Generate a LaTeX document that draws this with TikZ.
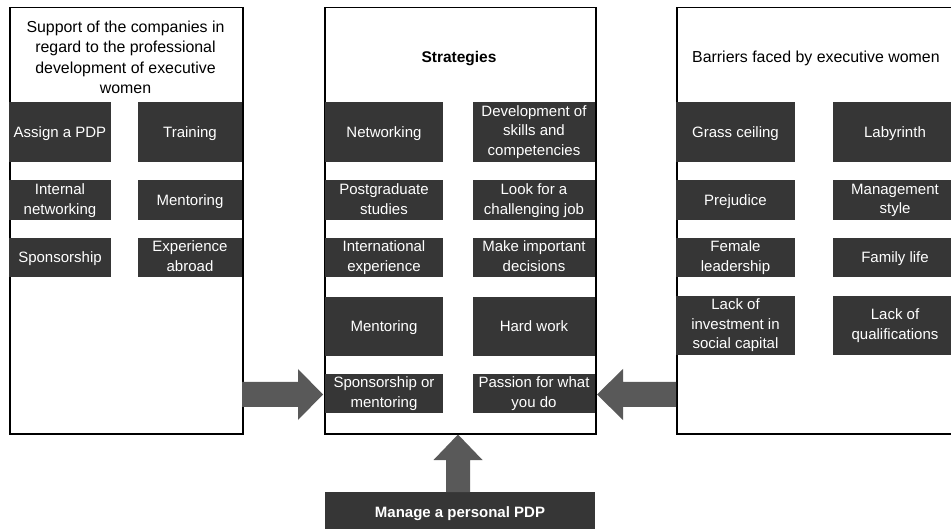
\documentclass[tikz,border=0pt]{standalone}
\usepackage{fontspec}
\setmainfont{Liberation Sans}
\definecolor{boxgray}{HTML}{363636}
\definecolor{arrowgray}{HTML}{595959}
\newcommand{\topstrut}{\rule{0pt}{0.905em}}
\newcommand{\botstrut}{\rule[-0.212em]{0pt}{0pt}}
\tikzset{
  panel/.style={draw=black, line width=1.5pt, fill=white, inner sep=0pt, anchor=north west},
  item/.style={fill=boxgray, text=white, inner sep=0pt, align=center,
     font=\fontsize{15}{19.5}\selectfont,
     execute at begin node=\topstrut, execute at end node=\botstrut},
  bigarrow/.style={fill=arrowgray, draw=none},
  ttl/.style={align=center, font=\fontsize{15.9}{20.5}\selectfont, inner sep=0pt,
     execute at begin node=\topstrut, execute at end node=\botstrut}
}
\newcommand{\itm}[6]{\node[item, minimum width=#3, minimum height=#4] (#1) at (#2) {#5};}
\begin{document}
\begin{tikzpicture}[x=1pt,y=-1pt]
\useasboundingbox (0,0) rectangle (951,529);
\clip (0,0) rectangle (951,529);
% panels
\node[panel, minimum width=233pt, minimum height=426pt] (lp) at (9,7) {};
\node[panel, minimum width=271pt, minimum height=426pt] (mp) at (324,7) {};
\node[panel, minimum width=290pt, minimum height=426pt] (rp) at (676,7) {};
% titles
\node[ttl] (lt) at (125.5,59) {Support of the companies in\\regard to the professional\\development of executive\\women};
\node[ttl, font=\fontsize{15.5}{20.5}\selectfont\bfseries] (mt) at (459,57) {Strategies};
\node[ttl, anchor=west] (rt) at (692,57) {Barriers faced by executive women};
% left boxes
\itm{l11}{60,132}{102pt}{60pt}{Assign a PDP}{}
\itm{l12}{190,132}{104pt}{60pt}{Training}{}
\itm{l21}{60,200.5}{102pt}{40pt}{Internal\\networking}{}
\itm{l22}{190,200.5}{104pt}{40pt}{Mentoring}{}
\itm{l31}{60,257.5}{102pt}{39pt}{Sponsorship}{}
\itm{l32}{190,257.5}{104pt}{39pt}{Experience\\abroad}{}
% middle boxes
\itm{m11}{384,132}{118pt}{60pt}{Networking}{}
\itm{m12}{534,132}{122pt}{60pt}{Development of\\skills and\\competencies}{}
\itm{m21}{384,200.5}{118pt}{40pt}{Postgraduate\\studies}{}
\itm{m22}{534,200.5}{122pt}{40pt}{Look for a\\challenging job}{}
\itm{m31}{384,257.5}{118pt}{39pt}{International\\experience}{}
\itm{m32}{534,257.5}{122pt}{39pt}{Make important\\decisions}{}
\itm{m41}{384,326.5}{118pt}{59pt}{Mentoring}{}
\itm{m42}{534,326.5}{122pt}{59pt}{Hard work}{}
\itm{m51}{384,393.5}{118pt}{39pt}{Sponsorship or\\mentoring}{}
\itm{m52}{534,393.5}{122pt}{39pt}{Passion for what\\you do}{}
% right boxes
\itm{r11}{735.5,132}{119pt}{60pt}{Grass ceiling}{}
\itm{r12}{895,132}{124pt}{60pt}{Labyrinth}{}
\itm{r21}{735.5,200.5}{119pt}{40pt}{Prejudice}{}
\itm{r22}{895,200.5}{124pt}{40pt}{Management\\style}{}
\itm{r31}{735.5,257.5}{119pt}{39pt}{Female\\leadership}{}
\itm{r32}{895,257.5}{124pt}{39pt}{Family life}{}
\itm{r41}{735.5,325.5}{119pt}{59pt}{Lack of\\investment in\\social capital}{}
\itm{r42}{895,325.5}{124pt}{59pt}{Lack of\\qualifications}{}
% bottom box
\node[item, minimum width=270pt, minimum height=40pt, font=\fontsize{15}{19}\selectfont\bfseries] (pdp) at (460,512) {Manage a personal PDP};
% block arrows
\fill[bigarrow] (242,382) -- (298,382) -- (298,369) -- (323,394.5) -- (298,420) -- (298,407) -- (242,407) -- cycle;
\fill[bigarrow] (676,382) -- (623,382) -- (623,369) -- (597,394.5) -- (623,420) -- (623,407) -- (676,407) -- cycle;
\fill[bigarrow] (446,492) -- (446,460) -- (433.5,460) -- (458,434.5) -- (482.5,460) -- (470,460) -- (470,492) -- cycle;
\end{tikzpicture}
\end{document}
